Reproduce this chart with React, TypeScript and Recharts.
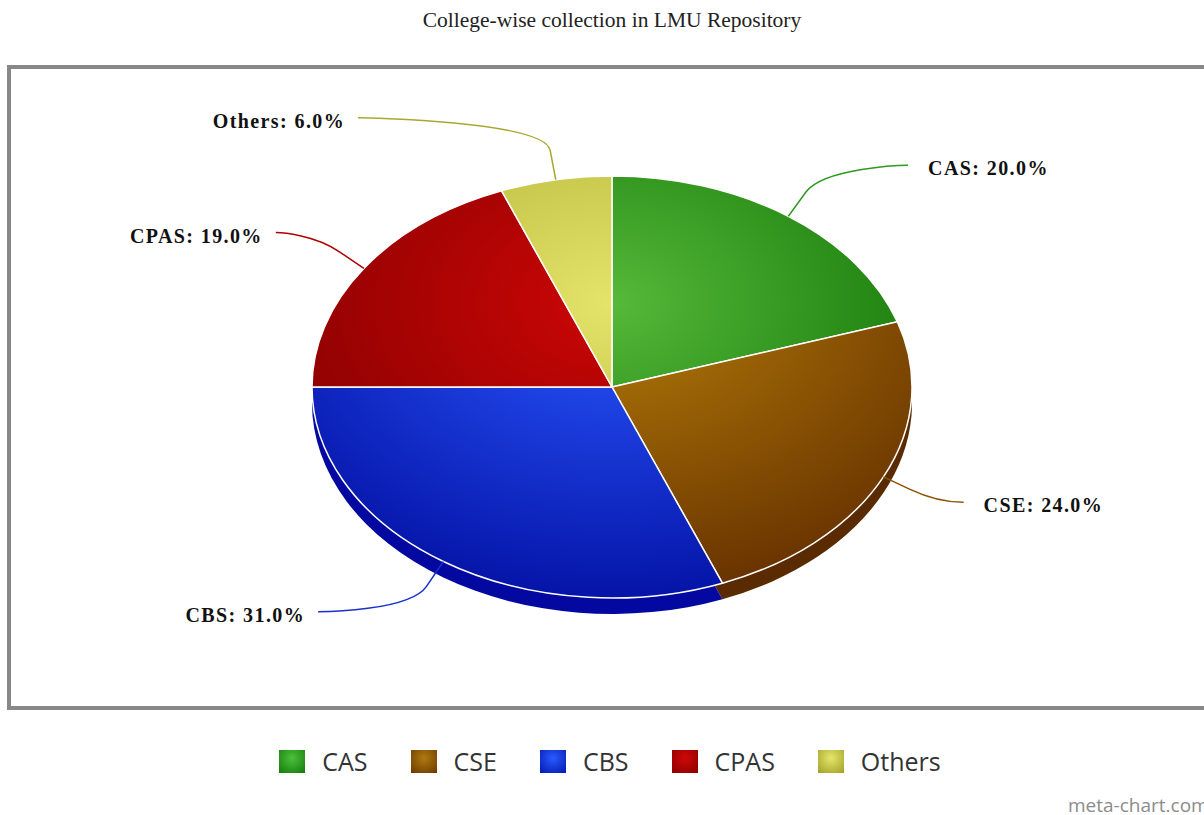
import React from 'react';
import { PieChart, Pie, Cell, Legend } from 'recharts';

const categories = ['CAS', 'CSE', 'CBS', 'CPAS', 'Others'];
const shares = [20, 24, 31, 19, 6];
const lightColors = ['#56b93a', '#b47c08', '#2a58ff', '#cc0606', '#e4e46a'];
const darkColors = ['#0a6c00', '#683200', '#0514a8', '#800000', '#a8a82c'];
const sideColors = ['#16700c', '#5a2a00', '#0208a0', '#7a0000', '#90902a'];
const lineColors = ['#2e9a20', '#8a5200', '#1a2fd0', '#b00000', '#a8a830'];
const legendIconLight = ['#4cc03a', '#b07a10', '#2a5aff', '#d00808', '#e6e66a'];
const legendIconDark = ['#147a0c', '#6a3800', '#0418b0', '#8a0000', '#a0a028'];

const data = categories.map((name, i) => ({ name, value: shares[i] }));

const CX = 612;
const CY = 387;
const RX = 300;
const RY_RATIO = 0.7033;
const DEPTH = 16;

const renderLabel = (props: any) => {
  const { cx, cy, midAngle, outerRadius, percent, name, index } = props;
  const rad = Math.PI / 180;
  const ry = outerRadius * RY_RATIO;
  const c = Math.cos(-midAngle * rad);
  const s = Math.sin(-midAngle * rad);
  const ax = cx + outerRadius * c;
  const ay = cy + ry * s;
  const bx = cx + (outerRadius + 30) * c;
  const by = cy + (ry + 30) * s;
  const ly = cy + (ry + 62) * s - 1;
  const right = c >= 0;
  const dx = Math.sqrt(Math.max(0, 370 * 370 - (ly - cy) * (ly - cy)));
  const lx = right ? cx + dx : cx - dx;
  const path = `M ${lx} ${ly} C ${lx + (right ? -5 : 5)} ${ly} ${2 * bx - ax} ${2 * by - ay} ${bx} ${by} L ${ax} ${ay}`;
  const tx = right ? lx + 20 : lx - 13;
  return (
    <g key={`lbl-${index}`}>
      <path d={path} stroke={lineColors[index]} strokeWidth={1.5} fill="none" />
      <text
        x={tx}
        y={ly + 10}
        textAnchor={right ? 'start' : 'end'}
        fontFamily="'Liberation Serif', 'Times New Roman', serif"
        fontWeight="bold"
        fontSize={20}
        letterSpacing={1.4}
        fill="#111"
      >
        {`${name}: ${(percent * 100).toFixed(1)}%`}
      </text>
    </g>
  );
};

const renderLegend = () => (
  <div
    style={{
      display: 'flex',
      justifyContent: 'center',
      alignItems: 'center',
      fontFamily: "'Open Sans', sans-serif",
      fontSize: 25,
      color: '#333',
      height: 34,
      paddingLeft: 16,
      boxSizing: 'border-box',
    }}
  >
    {categories.map((cat, i) => (
      <div
        key={cat}
        style={{ display: 'flex', alignItems: 'center', marginRight: i < categories.length - 1 ? 43 : 0 }}
      >
        <span
          style={{
            display: 'inline-block',
            width: 26,
            height: 23,
            marginRight: 17,
            background: `radial-gradient(circle at 50% 35%, ${legendIconLight[i]} 0%, ${legendIconDark[i]} 100%)`,
          }}
        />
        <span>{cat}</span>
      </div>
    ))}
  </div>
);

const css = `
.pie-top .recharts-sector { transform-origin: ${CX}px ${CY}px; transform: scaleY(${RY_RATIO}); vector-effect: non-scaling-stroke; }
.pie-depth .recharts-sector { transform-origin: ${CX}px ${CY + DEPTH}px; transform: scaleY(${RY_RATIO}); }
`;

export default function App() {
  return (
    <div style={{ position: 'absolute', left: 0, top: 0, width: 1204, height: 815, background: '#fff' }}>
      <style>{css}</style>
      <PieChart width={1204} height={815} margin={{ top: 0, right: 0, bottom: 0, left: 0 }}>
        <defs>
          {categories.map((cat, i) => (
            <radialGradient
              key={cat}
              id={`grad-${i}`}
              gradientUnits="userSpaceOnUse"
              cx={CX}
              cy={CY - 120}
              r={420}
            >
              <stop offset="0%" stopColor={lightColors[i]} />
              <stop offset="100%" stopColor={darkColors[i]} />
            </radialGradient>
          ))}
        </defs>
        <rect x={9} y={67} width={1230} height={641} fill="none" stroke="#888" strokeWidth={4} />
        <text
          x={612}
          y={27}
          textAnchor="middle"
          fontFamily="'Liberation Serif', 'Times New Roman', serif"
          fontSize={21.5}
          fill="#222"
        >
          College-wise collection in LMU Repository
        </text>
        <text x={1068} y={812} fontFamily="'Open Sans', sans-serif" fontSize={19} fill="#8c8c8c">
          meta-chart.com
        </text>
        <Pie
          className="pie-depth"
          data={data}
          dataKey="value"
          nameKey="name"
          cx={CX}
          cy={CY + DEPTH}
          outerRadius={RX}
          startAngle={90}
          endAngle={-270}
          stroke="none"
          label={false}
          labelLine={false}
          legendType="none"
          isAnimationActive={false}
        >
          {categories.map((cat, i) => (
            <Cell key={cat} fill={sideColors[i]} />
          ))}
        </Pie>
        <Pie
          className="pie-top"
          data={data}
          dataKey="value"
          nameKey="name"
          cx={CX}
          cy={CY}
          outerRadius={RX}
          startAngle={90}
          endAngle={-270}
          stroke="#ffffff"
          strokeWidth={1.5}
          label={renderLabel}
          labelLine={false}
          isAnimationActive={false}
        >
          {categories.map((cat, i) => (
            <Cell key={cat} fill={`url(#grad-${i})`} />
          ))}
        </Pie>
        <Legend
          content={renderLegend}
          wrapperStyle={{ position: 'absolute', top: 744, left: 0, width: 1204, height: 34 }}
        />
      </PieChart>
    </div>
  );
}
